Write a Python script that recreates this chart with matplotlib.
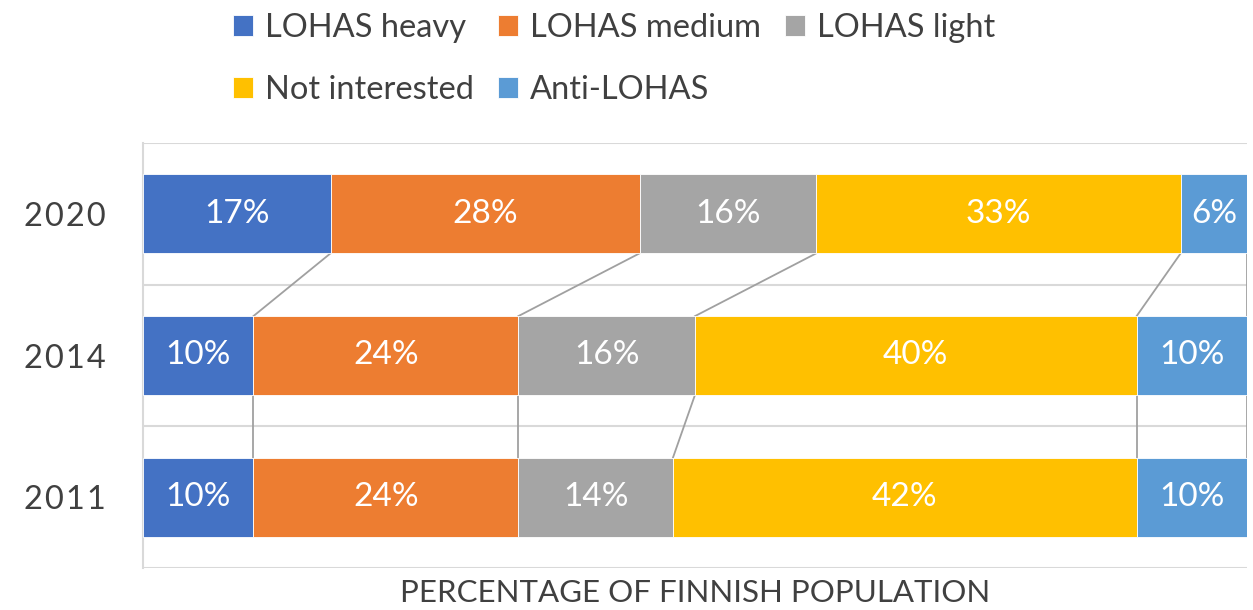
import matplotlib.pyplot as plt
import numpy as np

plt.rcParams['font.family'] = ['Lato', 'DejaVu Sans']

years = ['2011', '2014', '2020']
series = ['LOHAS heavy', 'LOHAS medium', 'LOHAS light', 'Not interested', 'Anti-LOHAS']
heavy = [10, 10, 17]
medium = [24, 24, 28]
light = [14, 16, 16]
not_interested = [42, 40, 33]
anti = [10, 10, 6]
colors = ['#4472C4', '#ED7D31', '#A5A5A5', '#FFC000', '#5B9BD5']

data = np.array([heavy, medium, light, not_interested, anti], dtype=float)

fig = plt.figure(figsize=(12.53, 6.10), dpi=100)
ax = fig.add_axes([143/1253, 42/610, 1104/1253, 425/610])

y = np.arange(len(years))
h = 0.556
left = np.zeros(len(years))
handles = []
for i, name in enumerate(series):
    b = ax.barh(y, data[i], height=h, left=left, color=colors[i], label=name,
                edgecolor='white', linewidth=0.6, zorder=3)
    handles.append(b)
    for j in range(len(years)):
        ax.text(left[j] + data[i][j] / 2, y[j], f'{int(data[i][j])}%',
                ha='center', va='center', color='white', fontsize=24, zorder=4)
    left = left + data[i]

# series lines between bars
cum = np.cumsum(data, axis=0)
for i in range(len(series)):
    for j in range(len(years) - 1):
        ax.plot([cum[i][j + 1], cum[i][j]], [y[j + 1] - h / 2, y[j] + h / 2],
                color='#A0A0A0', linewidth=1.3, zorder=2)

# gridlines at category boundaries
for g in [-0.5, 0.5, 1.5, 2.5]:
    ax.axhline(g, color='#D9D9D9', linewidth=1.5, zorder=1)

ax.set_xlim(0, 100)
ax.set_ylim(-0.5, 2.5)
ax.set_yticks(y)
ax.set_yticklabels(['\u200a'.join(yr) for yr in years], fontsize=23.5, color='#404040')
ax.tick_params(axis='y', length=0, pad=27)
ax.set_xticks([])
for s in ['top', 'right', 'bottom']:
    ax.spines[s].set_visible(False)
ax.spines['left'].set_color('#D9D9D9')
ax.spines['left'].set_linewidth(1.5)

ax.set_xlabel('PERCENTAGE OF FINNISH POPULATION', fontsize=22.5, color='#404040', labelpad=8)

order = [0, 3, 1, 4, 2]
fig.legend([handles[k] for k in order], [series[k] for k in order],
           ncol=3, loc='upper left', bbox_to_anchor=(220/1253, 1.0), frameon=False,
           fontsize=23.5, labelcolor='#404040', handlelength=0.62, handleheight=0.62,
           handletextpad=0.35, columnspacing=0.75, labelspacing=0.97, borderaxespad=0.0)

fig.savefig('out.png', dpi=100)
